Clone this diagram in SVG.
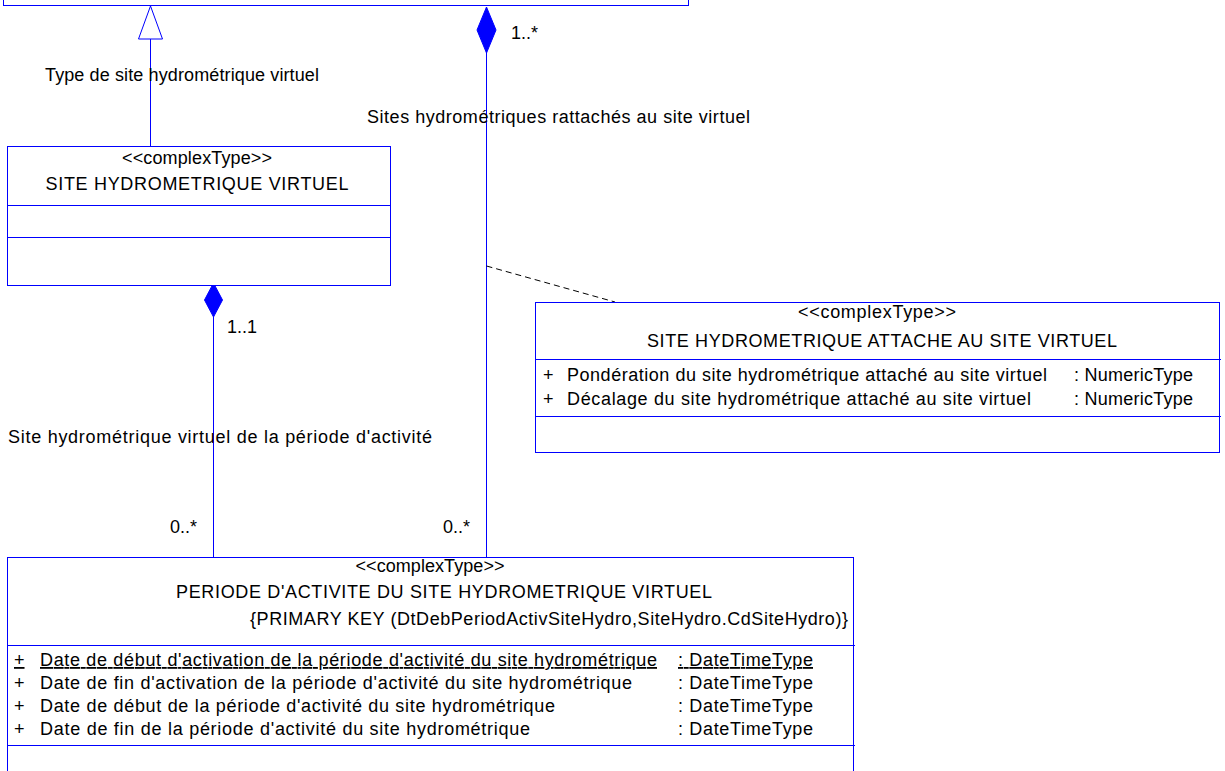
<svg xmlns="http://www.w3.org/2000/svg" width="1225" height="771" viewBox="0 0 1225 771">
<style>
text{font-family:"Liberation Sans",Arial,sans-serif;font-size:18px;fill:#000}
.c{text-anchor:middle}
.box{fill:#fff;stroke:#0000ff;stroke-width:1}
.ln{stroke:#0000ff;stroke-width:1;fill:none}
.u{text-decoration:underline}
</style>
<rect width="1225" height="771" fill="#fff"/>
<g id="connectors">
<line class="ln" x1="150.5" y1="39" x2="150.5" y2="146"/>
<polygon points="150.5,6 138.5,39 162.5,39" fill="#fff" stroke="#0000ff"/>
<line class="ln" x1="486.5" y1="53" x2="486.5" y2="557"/>
<polygon points="486.5,7 496,30 486.5,53 477,30" fill="#0000ff" stroke="#0000ff"/>
<line class="ln" x1="213.5" y1="317" x2="213.5" y2="557"/>
<polygon points="213.5,283 222.5,300 213.5,317 204.5,300" fill="#0000ff" stroke="#0000ff"/>
<line x1="486.5" y1="266" x2="615" y2="302" stroke="#000" stroke-dasharray="6,4"/>
<text x="45" y="81" textLength="274" lengthAdjust="spacing">Type de site hydrométrique virtuel</text>
<text x="511" y="39">1..*</text>
<text x="367" y="123" textLength="383" lengthAdjust="spacing">Sites hydrométriques rattachés au site virtuel</text>
<text x="227" y="333">1..1</text>
<text x="8" y="443" textLength="424" lengthAdjust="spacing">Site hydrométrique virtuel de la période d'activité</text>
<text x="170" y="533">0..*</text>
<text x="443" y="533">0..*</text>
</g>
<g id="top-class">
<rect class="box" x="3.5" y="-100" width="685" height="105.5"/>
</g>
<g id="site-virtuel">
<rect class="box" x="7.5" y="146.5" width="383" height="139"/>
<line class="ln" x1="7.5" y1="205.5" x2="391" y2="205.5"/>
<line class="ln" x1="7.5" y1="237.5" x2="391" y2="237.5"/>
<text class="c" x="197" y="164" textLength="150" lengthAdjust="spacing">&lt;&lt;complexType&gt;&gt;</text>
<text class="c" x="197" y="190" textLength="303" lengthAdjust="spacing">SITE HYDROMETRIQUE VIRTUEL</text>
</g>
<g id="site-attache">
<rect class="box" x="535.5" y="302.5" width="684" height="150"/>
<line class="ln" x1="535.5" y1="359.5" x2="1221" y2="359.5"/>
<line class="ln" x1="535.5" y1="416.5" x2="1221" y2="416.5"/>
<text class="c" x="877" y="318" textLength="158" lengthAdjust="spacing">&lt;&lt;complexType&gt;&gt;</text>
<text class="c" x="882" y="347" textLength="470" lengthAdjust="spacing">SITE HYDROMETRIQUE ATTACHE AU SITE VIRTUEL</text>
<text x="543" y="381">+</text>
<text x="567" y="381" textLength="480" lengthAdjust="spacing">Pondération du site hydrométrique attaché au site virtuel</text>
<text x="1074" y="381" textLength="119" lengthAdjust="spacing">: NumericType</text>
<text x="543" y="405">+</text>
<text x="567" y="405" textLength="464" lengthAdjust="spacing">Décalage du site hydrométrique attaché au site virtuel</text>
<text x="1074" y="405" textLength="119" lengthAdjust="spacing">: NumericType</text>
</g>
<g id="periode">
<rect class="box" x="7.5" y="557.5" width="846" height="300"/>
<line class="ln" x1="7.5" y1="645.5" x2="855" y2="645.5"/>
<line class="ln" x1="7.5" y1="745.5" x2="855" y2="745.5"/>
<text class="c" x="430" y="572" textLength="149" lengthAdjust="spacing">&lt;&lt;complexType&gt;&gt;</text>
<text class="c" x="444" y="598" textLength="536" lengthAdjust="spacing">PERIODE D'ACTIVITE DU SITE HYDROMETRIQUE VIRTUEL</text>
<text x="250" y="625" textLength="598" lengthAdjust="spacing">{PRIMARY KEY (DtDebPeriodActivSiteHydro,SiteHydro.CdSiteHydro)}</text>
<text class="u" x="14" y="666">+</text>
<text class="u" x="40" y="666" textLength="617" lengthAdjust="spacing">Date de début d'activation de la période d'activité du site hydrométrique</text>
<text class="u" x="678" y="666" textLength="135" lengthAdjust="spacing">: DateTimeType</text>
<text x="14" y="689">+</text>
<text x="40" y="689" textLength="592" lengthAdjust="spacing">Date de fin d'activation de la période d'activité du site hydrométrique</text>
<text x="678" y="689" textLength="135" lengthAdjust="spacing">: DateTimeType</text>
<text x="14" y="712">+</text>
<text x="40" y="712" textLength="515" lengthAdjust="spacing">Date de début de la période d'activité du site hydrométrique</text>
<text x="678" y="712" textLength="135" lengthAdjust="spacing">: DateTimeType</text>
<text x="14" y="735">+</text>
<text x="40" y="735" textLength="490" lengthAdjust="spacing">Date de fin de la période d'activité du site hydrométrique</text>
<text x="678" y="735" textLength="135" lengthAdjust="spacing">: DateTimeType</text>
</g>
</svg>
